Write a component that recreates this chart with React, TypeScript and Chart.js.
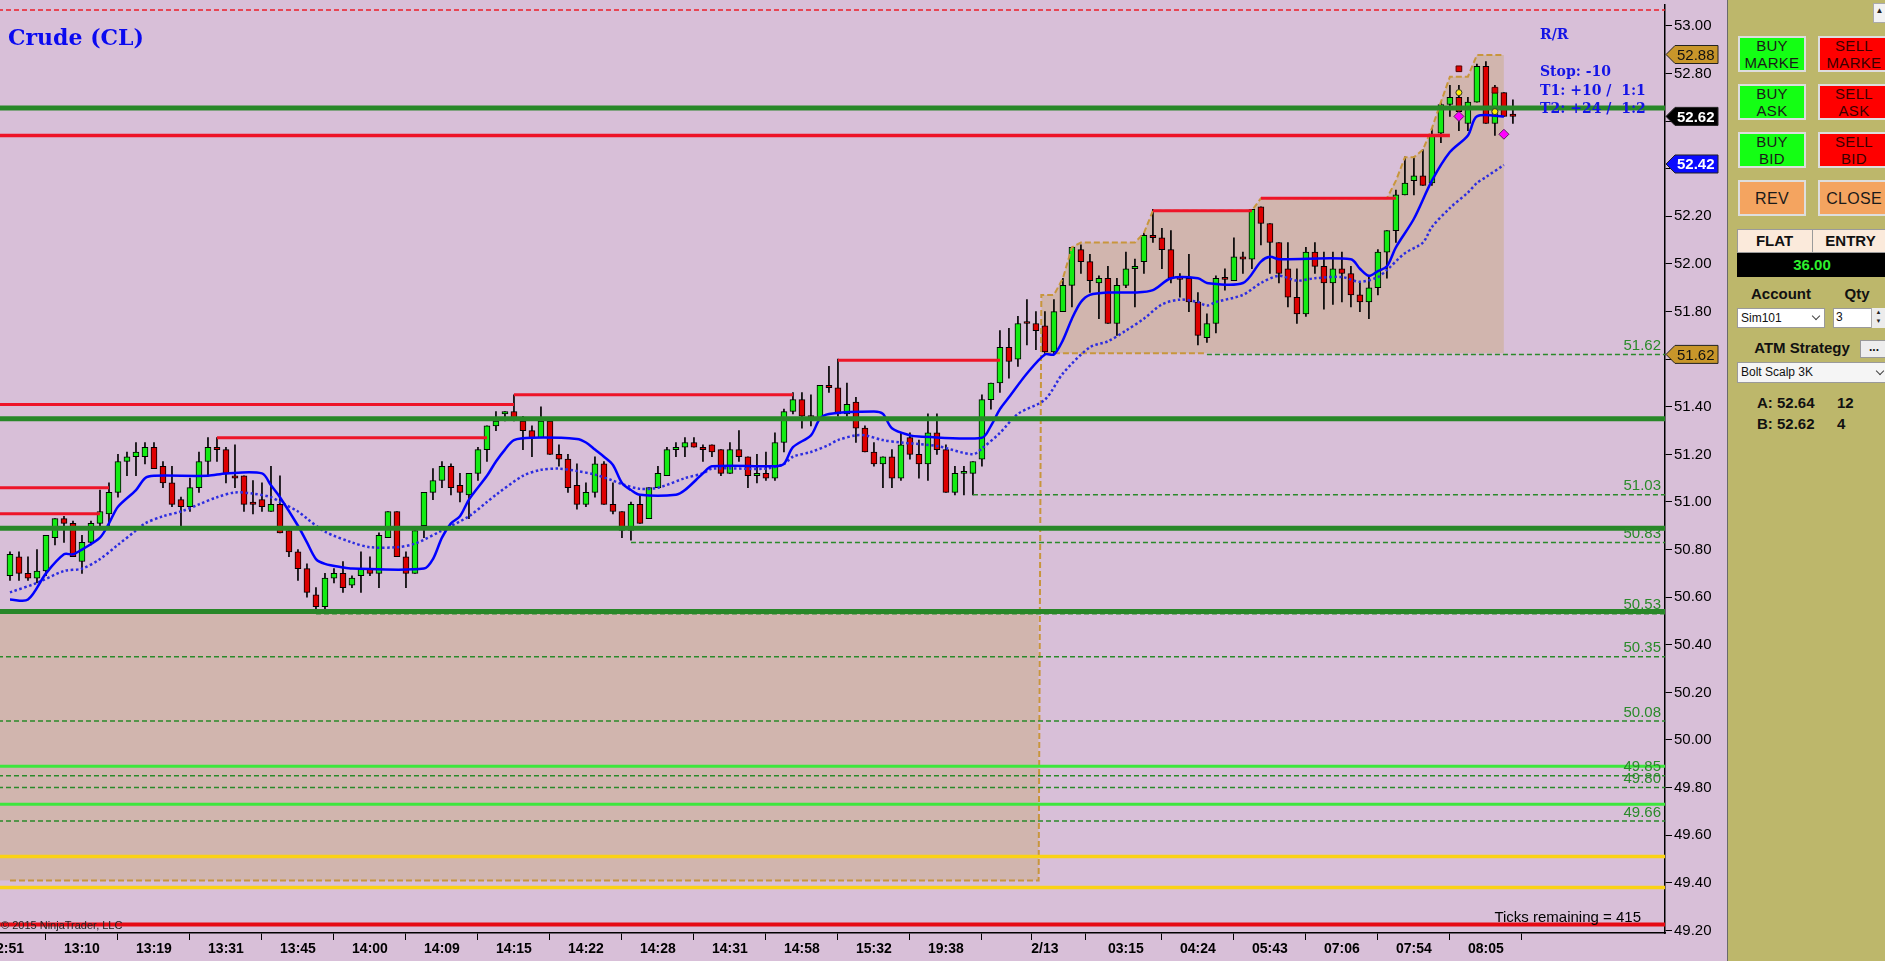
import React, { useEffect, useRef } from 'react';
import { Chart, registerables } from 'chart.js';

Chart.register(...registerables);

// ---------- DATA ----------
const opens = [
  50.69, 50.77, 50.70, 50.68, 50.71, 50.85, 50.93, 50.91, 50.75, 50.83,
  50.91, 50.95, 51.04, 51.17, 51.19, 51.19, 51.23, 51.15, 51.08, 51.01,
  50.98, 51.06, 51.17, 51.23, 51.22, 51.11, 51.11, 51.00, 51.01, 50.96,
  50.99, 50.88, 50.79, 50.72, 50.61, 50.56, 50.68, 50.70, 50.65, 50.69,
  50.72, 50.70, 50.85, 50.96, 50.77, 50.70, 50.90, 51.04, 51.09, 51.15,
  51.07, 51.03, 51.12, 51.22, 51.32, 51.37, 51.38, 51.34, 51.30, 51.27,
  51.34, 51.20, 51.18, 51.07, 50.99, 51.04, 51.16, 50.99, 50.96, 50.88,
  50.99, 50.93, 51.06, 51.11, 51.22, 51.23, 51.25, 51.23, 51.24, 51.22,
  51.12, 51.22, 51.19, 51.11, 51.12, 51.10, 51.25, 51.38, 51.43, 51.36,
  51.35, 51.49, 51.48, 51.37, 51.42, 51.31, 51.21, 51.16, 51.19, 51.10,
  51.27, 51.20, 51.16, 51.29, 51.22, 51.04, 51.12, 51.12, 51.18, 51.43,
  51.50, 51.65, 51.60, 51.755, 51.75, 51.74, 51.63, 51.80, 51.91, 52.06,
  52.01, 51.92, 51.94, 51.75, 51.91, 51.98, 52.01, 52.12, 52.11, 52.06,
  51.94, 51.94, 51.84, 51.69, 51.75, 51.94, 51.93, 52.03, 52.02, 52.24,
  52.17, 52.09, 51.98, 51.86, 51.79, 52.05, 51.99, 51.92, 51.98, 51.96,
  51.87, 51.84, 51.90, 52.05, 52.14, 52.29, 52.35, 52.37, 52.34, 52.55,
  52.67, 52.70, 52.59, 52.68, 52.83, 52.59, 52.72, 52.63,
];
const highs = [
  50.79, 50.79, 50.77, 50.80, 50.86, 50.93, 50.94, 50.92, 50.86, 50.92,
  51.05, 51.08, 51.20, 51.21, 51.25, 51.25, 51.25, 51.17, 51.15, 51.02,
  51.10, 51.21, 51.27, 51.27, 51.23, 51.24, 51.11, 51.09, 51.08, 51.15,
  51.11, 50.88, 50.80, 50.74, 50.64, 50.70, 50.72, 50.75, 50.69, 50.79,
  50.77, 50.87, 50.96, 50.96, 50.79, 50.88, 51.04, 51.14, 51.17, 51.16,
  51.12, 51.12, 51.23, 51.32, 51.38, 51.38, 51.45, 51.36, 51.32, 51.40,
  51.34, 51.24, 51.20, 51.16, 51.08, 51.19, 51.17, 51.08, 50.96, 51.00,
  51.03, 51.06, 51.15, 51.23, 51.25, 51.27, 51.27, 51.24, 51.24, 51.22,
  51.25, 51.30, 51.19, 51.20, 51.21, 51.29, 51.39, 51.46, 51.46, 51.45,
  51.49, 51.57, 51.60, 51.50, 51.44, 51.32, 51.25, 51.19, 51.22, 51.29,
  51.29, 51.26, 51.37, 51.37, 51.24, 51.15, 51.15, 51.17, 51.45, 51.50,
  51.72, 51.73, 51.78, 51.85, 51.80, 51.80, 51.85, 51.94, 52.07, 52.08,
  52.04, 51.95, 51.99, 51.94, 52.05, 52.02, 52.13, 52.23, 52.15, 52.14,
  51.96, 52.04, 51.88, 51.79, 51.95, 51.98, 52.11, 52.05, 52.23, 52.24,
  52.17, 52.09, 52.09, 51.98, 52.07, 52.09, 52.05, 52.05, 52.05, 51.99,
  51.92, 51.95, 52.06, 52.14, 52.31, 52.45, 52.45, 52.48, 52.57, 52.68,
  52.75, 52.75, 52.70, 52.84, 52.85, 52.75, 52.72, 52.69,
];
const lows = [
  50.67, 50.67, 50.67, 50.66, 50.69, 50.82, 50.83, 50.77, 50.70, 50.82,
  50.90, 50.90, 51.02, 51.11, 51.11, 51.16, 51.14, 51.06, 50.98, 50.90,
  50.96, 51.04, 51.11, 51.17, 51.08, 51.06, 50.96, 50.95, 50.96, 50.96,
  50.87, 50.77, 50.67, 50.60, 50.54, 50.55, 50.66, 50.62, 50.64, 50.62,
  50.69, 50.64, 50.85, 50.77, 50.64, 50.70, 50.85, 51.01, 51.06, 51.03,
  51.00, 50.93, 51.09, 51.17, 51.30, 51.34, 51.34, 51.22, 51.19, 51.27,
  51.20, 51.15, 51.04, 50.97, 50.98, 51.02, 50.99, 50.95, 50.85, 50.84,
  50.91, 50.93, 51.06, 51.11, 51.19, 51.19, 51.23, 51.17, 51.19, 51.11,
  51.12, 51.17, 51.06, 51.08, 51.09, 51.09, 51.21, 51.37, 51.31, 51.32,
  51.35, 51.46, 51.36, 51.36, 51.25, 51.21, 51.15, 51.06, 51.06, 51.09,
  51.18, 51.10, 51.09, 51.20, 51.04, 51.03, 51.03, 51.03, 51.15, 51.39,
  51.46, 51.52, 51.57, 51.66, 51.64, 51.62, 51.62, 51.80, 51.82, 51.96,
  51.88, 51.77, 51.75, 51.70, 51.90, 51.82, 51.96, 52.09, 51.98, 51.92,
  51.86, 51.80, 51.66, 51.67, 51.71, 51.89, 51.93, 51.96, 51.98, 52.08,
  51.96, 51.92, 51.82, 51.75, 51.78, 51.96, 51.81, 51.83, 51.84, 51.82,
  51.80, 51.77, 51.87, 51.94, 52.09, 52.29, 52.29, 52.33, 52.33, 52.51,
  52.62, 52.56, 52.56, 52.68, 52.59, 52.54, 52.62, 52.59,
];
const closes = [
  50.78, 50.70, 50.68, 50.71, 50.86, 50.93, 50.91, 50.77, 50.83, 50.91,
  50.96, 51.04, 51.17, 51.19, 51.21, 51.23, 51.14, 51.08, 50.99, 50.98,
  51.06, 51.17, 51.23, 51.22, 51.12, 51.10, 50.99, 50.99, 50.98, 50.99,
  50.87, 50.79, 50.72, 50.62, 50.56, 50.68, 50.70, 50.64, 50.68, 50.72,
  50.70, 50.86, 50.96, 50.77, 50.70, 50.88, 51.04, 51.09, 51.15, 51.06,
  51.04, 51.12, 51.22, 51.32, 51.34, 51.38, 51.35, 51.30, 51.27, 51.34,
  51.20, 51.18, 51.06, 50.99, 51.04, 51.16, 50.99, 50.96, 50.88, 50.99,
  50.91, 51.06, 51.12, 51.22, 51.23, 51.25, 51.23, 51.22, 51.21, 51.12,
  51.22, 51.19, 51.11, 51.12, 51.10, 51.25, 51.38, 51.43, 51.36, 51.355,
  51.49, 51.48, 51.37, 51.41, 51.31, 51.21, 51.16, 51.19, 51.10, 51.24,
  51.20, 51.16, 51.29, 51.22, 51.04, 51.12, 51.125, 51.17, 51.43, 51.50,
  51.65, 51.59, 51.75, 51.75, 51.72, 51.63, 51.80, 51.91, 52.07, 52.01,
  51.93, 51.94, 51.75, 51.91, 51.98, 51.99, 52.12, 52.11, 52.06, 51.94,
  51.935, 51.84, 51.70, 51.75, 51.94, 51.935, 52.03, 52.02, 52.23, 52.17,
  52.09, 51.96, 51.86, 51.79, 52.05, 51.99, 51.92, 51.98, 51.96, 51.87,
  51.84, 51.90, 52.05, 52.14, 52.29, 52.34, 52.37, 52.33, 52.54, 52.67,
  52.70, 52.64, 52.68, 52.83, 52.59, 52.72, 52.62, 52.62,
];

// solid blue average: [bar index, price]
const fastMa: [number, number][] = [
  [0, 50.59], [2, 50.59], [4, 50.70], [6, 50.78], [7, 50.78], [8, 50.80], [10, 50.85], [11, 50.91],
  [12, 50.98], [14, 51.05], [15, 51.10], [16, 51.11], [22, 51.11], [24, 51.12], [28, 51.12], [29, 51.07],
  [30, 51.02], [32, 50.90], [33, 50.83], [34, 50.76], [35, 50.74], [37, 50.725], [38, 50.72], [46, 50.72],
  [47, 50.76], [48, 50.85], [49, 50.91], [50, 50.94], [51, 51.01], [53, 51.11], [54, 51.17], [55, 51.22],
  [56, 51.26], [58, 51.27], [63, 51.265], [64, 51.25], [65, 51.22], [66, 51.19], [67, 51.155], [68, 51.08],
  [69, 51.05], [70, 51.03], [74, 51.03], [75, 51.05], [77, 51.12], [78, 51.15], [85, 51.15], [86, 51.16],
  [87, 51.23], [89, 51.28], [90, 51.35], [91, 51.37], [96, 51.38], [97, 51.37], [98, 51.31], [100, 51.28],
  [101, 51.275], [108, 51.27], [109, 51.32], [110, 51.39], [111, 51.44], [113, 51.54], [115, 51.62], [116, 51.62],
  [117, 51.68], [118, 51.77], [119, 51.84], [120, 51.87], [122, 51.88], [125, 51.88], [127, 51.89], [129, 51.94],
  [132, 51.94], [133, 51.92], [137, 51.92], [139, 52.01], [140, 52.03], [141, 52.02], [149, 52.02], [150, 51.98],
  [151, 51.95], [152, 51.97], [153, 51.99], [154, 52.07], [156, 52.19], [158, 52.35], [160, 52.47], [162, 52.54],
  [163, 52.62], [166, 52.62],
];
// dotted blue average: [bar index, price]
const slowMa: [number, number][] = [
  [0, 50.62], [3, 50.66], [6, 50.71], [8, 50.72], [10, 50.76], [12, 50.82], [14, 50.88], [15, 50.91],
  [17, 50.94], [19, 50.96], [21, 50.99], [23, 51.02], [25, 51.04], [27, 51.035], [29, 51.02], [30, 51.00],
  [32, 50.96], [33, 50.93], [35, 50.875], [38, 50.83], [40, 50.81], [43, 50.81], [45, 50.825], [48, 50.88],
  [51, 50.94], [53, 51.00], [54, 51.03], [57, 51.11], [59, 51.135], [61, 51.14], [63, 51.13], [65, 51.115],
  [67, 51.09], [68, 51.075], [70, 51.055], [72, 51.06], [75, 51.10], [77, 51.12], [78, 51.14], [84, 51.14],
  [86, 51.16], [87, 51.19], [89, 51.21], [91, 51.24], [92, 51.26], [94, 51.28], [95, 51.28], [97, 51.26],
  [99, 51.25], [103, 51.235], [107, 51.20], [108, 51.225], [110, 51.29], [112, 51.37], [115, 51.43], [117, 51.54],
  [120, 51.65], [122, 51.675], [124, 51.72], [126, 51.77], [128, 51.83], [130, 51.85], [132, 51.84], [133, 51.825],
  [134, 51.84], [137, 51.87], [139, 51.92], [141, 51.95], [143, 51.93], [145, 51.94], [148, 51.945], [150, 51.925],
  [152, 51.945], [153, 51.975], [155, 52.045], [157, 52.09], [158, 52.155], [160, 52.235], [162, 52.30], [163, 52.34],
  [164, 52.365], [166, 52.416],
];

// stepped channel (tan dashed)
const channelIdx = [0, 114.3, 114.6, 116, 117, 118, 119, 125, 126, 127, 138, 139, 153, 154, 155, 156, 157, 158, 159, 160, 162, 163, 166];
const channelVal = [49.41, 49.41, 51.87, 51.87, 51.94, 52.07, 52.09, 52.09, 52.13, 52.224, 52.224, 52.276, 52.276, 52.35, 52.448, 52.448, 52.48, 52.57, 52.68, 52.787, 52.787, 52.878, 52.878];
const rangeLow = 50.54;      // top of first shaded zone
const rangeBase = 51.625;    // base of second shaded zone

const thickGreenLevels = [52.655, 51.35, 50.89, 50.54];
const supportLevels = [51.62, 51.03, 50.83, 50.53, 50.35, 50.08, 49.85, 49.80, 49.66];
const supportStart: (number | null)[] = [133, 107, 69, 34, null, null, null, null, null];
const resistLevels = [50.95, 51.06, 51.41, 51.27, 51.45, 51.595, 52.224, 52.276, 52.54];
const resistStart: (number | null)[] = [null, null, null, 23, 56, 92, 127, 139, null];
const resistEnd = [10, 11, 56, 53, 87, 110, 138, 154, 160];
const limeLevels = [49.89, 49.73];
const goldLevels = [49.51, 49.38];
const bottomRedLevel = 49.225;
const topDashedLevel = 53.067;

const tradeSquares: [number, number][] = [[161, 52.82], [165, 52.73]];
const tradeDots: [number, number][] = [[161, 52.72], [165, 52.64]];
const tradeDiamonds: [number, number][] = [[161, 52.62], [166, 52.545]];

const axisFlags = [52.88, 52.62, 52.42, 51.62];

const xTickIdx = [0, 8, 16, 24, 32, 40, 48, 56, 64, 72, 80, 88, 96, 104, 112, 115, 124, 132, 140, 148, 156, 164];
const xTickLabels = ['2:51', '13:10', '13:19', '13:31', '13:45', '14:00', '14:09', '14:15', '14:22', '14:28', '14:31', '14:58', '15:32', '19:38', '', '2/13', '03:15', '04:24', '05:43', '07:06', '07:54', '08:05'];
const priceTicks = [49.2, 49.4, 49.6, 49.8, 50.0, 50.2, 50.4, 50.6, 50.8, 51.0, 51.2, 51.4, 51.6, 51.8, 52.0, 52.2, 52.4, 52.6, 52.8, 53.0];

// ---------- CHART ----------
const FONT = '"Liberation Sans", Arial, Helvetica, sans-serif';
const XMIN = -1.11;
const XMAX = 183.9;

function hline(y: number, x0: number | null, x1: number | null, color: string, width: number, order: number, dash: number[] = []) {
  return {
    type: 'line' as const,
    data: [{ x: x0 == null ? XMIN - 2 : x0, y }, { x: x1 == null ? XMAX + 2 : x1, y }],
    borderColor: color,
    borderWidth: width,
    borderDash: dash,
    pointRadius: 0,
    fill: false,
    order,
  };
}

const overlayPlugin = {
  id: 'overlayPlugin',
  afterDatasetsDraw(chart: any) {
    const { ctx, chartArea } = chart;
    const y = chart.scales.y;
    ctx.save();
    ctx.font = '15px ' + FONT;
    ctx.fillStyle = '#2a8a2a';
    ctx.textAlign = 'right';
    ctx.textBaseline = 'bottom';
    supportLevels.forEach((v) => {
      ctx.fillText(v.toFixed(2), chartArea.right - 4, y.getPixelForValue(v) - 1);
    });
    ctx.restore();
  },
  afterDraw(chart: any) {
    const { ctx, chartArea } = chart;
    const y = chart.scales.y;
    const bg = ['#c8962a', '#000000', '#0a0aff', '#c8962a'];
    const fg = ['#111111', '#ffffff', '#ffffff', '#111111'];
    const bold = [false, true, true, false];
    ctx.save();
    axisFlags.forEach((v, k) => {
      const py = y.getPixelForValue(v);
      const x0 = chartArea.right + 1;
      ctx.beginPath();
      ctx.moveTo(x0, py);
      ctx.lineTo(x0 + 9, py - 9);
      ctx.lineTo(x0 + 52, py - 9);
      ctx.lineTo(x0 + 52, py + 9);
      ctx.lineTo(x0 + 9, py + 9);
      ctx.closePath();
      ctx.fillStyle = bg[k];
      ctx.fill();
      ctx.strokeStyle = '#222';
      ctx.lineWidth = 1;
      ctx.stroke();
      ctx.fillStyle = fg[k];
      ctx.font = (bold[k] ? 'bold ' : '') + '15px ' + FONT;
      ctx.textAlign = 'left';
      ctx.textBaseline = 'middle';
      ctx.fillText(v.toFixed(2), x0 + 11, py + 1);
    });
    ctx.restore();
  },
};

function buildConfig(): any {
  const fillColor = 'rgb(209,181,174)';
  const box2Idx = channelIdx.filter((x) => x >= 114.6);
  const box2Top = channelIdx.map((x, k) => ({ x, y: channelVal[k] })).filter((p) => p.x >= 114.6);
  const box2Bot = box2Idx.map((x) => ({ x, y: rangeBase }));

  const datasets: any[] = [
    // 0,1 first shaded zone
    { type: 'line', data: [{ x: XMIN - 2, y: rangeLow }, { x: 114.3, y: rangeLow }], borderWidth: 0, pointRadius: 0, fill: 1, backgroundColor: fillColor, order: 100 },
    { type: 'line', data: [{ x: XMIN - 2, y: 49.41 }, { x: 114.3, y: 49.41 }], borderWidth: 0, pointRadius: 0, fill: false, order: 100 },
    // 2,3 second shaded zone
    { type: 'line', data: box2Top, borderWidth: 0, pointRadius: 0, fill: 3, backgroundColor: fillColor, order: 100 },
    { type: 'line', data: box2Bot, borderWidth: 0, pointRadius: 0, fill: false, order: 100 },
  ];

  // candles: wicks then bodies
  datasets.push({
    type: 'bar',
    data: highs.map((h, i) => ({ x: i, y: [lows[i], h] })),
    backgroundColor: '#000',
    borderWidth: 0,
    barThickness: 1,
    grouped: false,
    order: 31,
  });
  datasets.push({
    type: 'bar',
    data: opens.map((o, i) => ({ x: i, y: [o, closes[i]] })),
    backgroundColor: opens.map((o, i) => (closes[i] >= o ? 'rgb(20,235,20)' : 'rgb(222,0,0)')),
    borderColor: '#000',
    borderWidth: 1,
    borderSkipped: false,
    barThickness: 6,
    minBarLength: 2,
    grouped: false,
    order: 30,
  });

  // channel dashed line
  datasets.push({
    type: 'line',
    data: channelIdx.map((x, k) => ({ x, y: channelVal[k] })),
    borderColor: 'rgb(200,150,60)',
    borderWidth: 2,
    borderDash: [6, 3],
    pointRadius: 0,
    fill: false,
    order: 25,
  });
  datasets.push(hline(rangeBase, 115, 133, 'rgb(200,150,60)', 2, 25, [6, 3]));

  // moving averages
  datasets.push({
    type: 'line',
    data: slowMa.map(([x, y]) => ({ x, y })),
    borderColor: '#2c2ce0',
    borderWidth: 2.5,
    borderDash: [2.5, 2.5],
    pointRadius: 0,
    tension: 0.3,
    fill: false,
    order: 21,
  });
  datasets.push({
    type: 'line',
    data: fastMa.map(([x, y]) => ({ x, y })),
    borderColor: '#0000ff',
    borderWidth: 2.5,
    pointRadius: 0,
    tension: 0.3,
    fill: false,
    order: 20,
  });

  // horizontal levels
  supportLevels.forEach((v, k) => datasets.push(hline(v, supportStart[k], null, '#2a8a2a', 1.5, 12, [5, 3])));
  resistLevels.forEach((v, k) => datasets.push(hline(v, resistStart[k], resistEnd[k], 'rgb(238,20,40)', k === 8 ? 3.5 : 3, 11)));
  limeLevels.forEach((v) => datasets.push(hline(v, null, null, 'rgb(60,230,60)', 3, 11)));
  goldLevels.forEach((v) => datasets.push(hline(v, null, null, 'rgb(250,210,20)', 3.5, 11)));
  datasets.push(hline(bottomRedLevel, null, null, 'rgb(230,10,20)', 4, 11));
  datasets.push(hline(topDashedLevel, null, null, 'rgb(235,30,40)', 1.5, 11, [5, 3]));
  thickGreenLevels.forEach((v) => datasets.push(hline(v, null, null, 'rgb(40,135,40)', 5, 10)));

  // trade markers
  datasets.push({ type: 'line', showLine: false, data: tradeSquares.map(([x, y]) => ({ x, y })), pointStyle: 'rect', pointRadius: 4, backgroundColor: 'rgb(225,0,0)', borderColor: '#500', borderWidth: 1, order: 1 });
  datasets.push({ type: 'line', showLine: false, data: tradeDots.map(([x, y]) => ({ x, y })), pointStyle: 'circle', pointRadius: 3, backgroundColor: 'rgb(255,240,0)', borderColor: '#333', borderWidth: 1, order: 1 });
  datasets.push({ type: 'line', showLine: false, data: tradeDiamonds.map(([x, y]) => ({ x, y })), pointStyle: 'rectRot', pointRadius: 5, backgroundColor: 'rgb(255,0,255)', borderColor: '#602060', borderWidth: 1, order: 1 });

  return {
    type: 'bar',
    data: { datasets },
    plugins: [overlayPlugin],
    options: {
      responsive: false,
      maintainAspectRatio: false,
      animation: false,
      events: [],
      layout: { autoPadding: false, padding: { top: 5, left: 0, right: 0, bottom: 0 } },
      plugins: { legend: { display: false }, tooltip: { enabled: false }, title: { display: false } },
      scales: {
        x: {
          type: 'linear',
          min: XMIN,
          max: XMAX,
          offset: false,
          afterBuildTicks: (s: any) => { s.ticks = xTickIdx.map((v) => ({ value: v })); },
          afterFit: (s: any) => { s.height = 28; s.paddingLeft = 0; s.paddingRight = 0; },
          ticks: {
            autoSkip: false,
            maxRotation: 0,
            minRotation: 0,
            color: '#000',
            padding: 1,
            font: { size: 14, weight: 'bold', family: FONT },
            callback: (_v: any, i: number) => xTickLabels[i] ?? '',
          },
          grid: { drawOnChartArea: false, drawTicks: true, tickLength: 7, color: '#000' },
          border: { display: true, color: '#000', width: 1.5 },
        },
        y: {
          type: 'linear',
          position: 'right',
          min: 49.189,
          max: 53.088,
          afterBuildTicks: (s: any) => { s.ticks = priceTicks.map((v) => ({ value: v })); },
          afterFit: (s: any) => { s.width = 62; s.paddingTop = 0; s.paddingBottom = 0; },
          ticks: {
            color: '#000',
            padding: 2,
            font: { size: 15, family: FONT },
            callback: (v: any) => Number(v).toFixed(2),
          },
          grid: { drawOnChartArea: false, drawTicks: true, tickLength: 7, color: '#000' },
          border: { display: true, color: '#000', width: 1.5 },
        },
      },
    },
  };
}

// ---------- UI PIECES ----------
const abs = (left: number, top: number, extra: React.CSSProperties = {}): React.CSSProperties => ({ position: 'absolute', left, top, ...extra });

function Btn(props: { left: number; top: number; w: number; h: number; bg: string; color: string; lines: string[]; size?: number }) {
  const { left, top, w, h, bg, color, lines, size = 15 } = props;
  return (
    <div style={abs(left, top, {
      width: w, height: h, background: bg, border: '2px solid #dedede', boxSizing: 'border-box', color,
      display: 'flex', flexDirection: 'column', alignItems: 'center', justifyContent: 'center',
      fontSize: size, lineHeight: '17px', fontFamily: FONT, letterSpacing: 0.3,
    })}>
      {lines.map((l) => <div key={l}>{l}</div>)}
    </div>
  );
}

function Chevron(props: { left: number; top: number }) {
  return (
    <div style={abs(props.left, props.top, {
      width: 5, height: 5, borderRight: '1.5px solid #444', borderBottom: '1.5px solid #444', transform: 'rotate(45deg)',
    })} />
  );
}

export default function App() {
  const ref = useRef<HTMLCanvasElement>(null);
  useEffect(() => {
    if (!ref.current) return;
    const chart = new Chart(ref.current, buildConfig());
    return () => chart.destroy();
  }, []);

  const serifBlue: React.CSSProperties = { fontFamily: '"DejaVu Serif", "Liberation Serif", serif', fontWeight: 'bold', color: '#1414e6', whiteSpace: 'pre' };
  const panelText: React.CSSProperties = { fontFamily: FONT, color: '#111', whiteSpace: 'pre' };

  return (
    <div style={{ position: 'absolute', left: 0, top: 0, width: 1885, height: 961, background: '#d8bfd8', overflow: 'hidden' }}>
      <canvas ref={ref} width={1727} height={961} style={{ position: 'absolute', left: 0, top: 0, width: 1727, height: 961 }} />

      {/* chart texts */}
      <div style={abs(8, 24, { ...serifBlue, fontSize: 22, lineHeight: '26px', color: '#0a0af0' })}>Crude (CL)</div>
      <div style={abs(1540, 26, { ...serifBlue, fontSize: 14, lineHeight: '16px' })}>R/R</div>
      <div style={abs(1540, 63, { ...serifBlue, fontSize: 14, lineHeight: '16px' })}>Stop: -10</div>
      <div style={abs(1540, 82, { ...serifBlue, fontSize: 14, lineHeight: '16px' })}>T1: +10 /  1:1</div>
      <div style={abs(1540, 100, { ...serifBlue, fontSize: 14, lineHeight: '16px' })}>T2: +24 /  1:2</div>
      <div style={{ position: 'absolute', right: 1885 - 1641, top: 908, fontFamily: FONT, fontSize: 15, color: '#000', whiteSpace: 'pre' }}>Ticks remaining = 415</div>
      <div style={abs(1, 919, { fontFamily: FONT, fontSize: 11, color: '#222', whiteSpace: 'pre' })}>© 2015 NinjaTrader, LLC</div>

      {/* right trading panel */}
      <div style={abs(1727, 0, { width: 158, height: 961, background: '#bdb76b', borderLeft: '1px solid #6a6a6a', boxSizing: 'border-box' })} />
      <div style={abs(1873, 3, { width: 13, height: 20, background: '#f2f2f2', border: '1px solid #aaa', boxSizing: 'border-box', fontSize: 8, textAlign: 'center', lineHeight: '14px', color: '#222' })}>▲</div>

      <Btn left={1738} top={36} w={68} h={36} bg="rgb(20,255,20)" color="#1a1a1a" lines={['BUY', 'MARKE']} />
      <Btn left={1818} top={36} w={72} h={36} bg="rgb(255,0,0)" color="#3a0000" lines={['SELL', 'MARKE']} />
      <Btn left={1738} top={84} w={68} h={36} bg="rgb(20,255,20)" color="#1a1a1a" lines={['BUY', 'ASK']} />
      <Btn left={1818} top={84} w={72} h={36} bg="rgb(255,0,0)" color="#3a0000" lines={['SELL', 'ASK']} />
      <Btn left={1738} top={132} w={68} h={36} bg="rgb(20,255,20)" color="#1a1a1a" lines={['BUY', 'BID']} />
      <Btn left={1818} top={132} w={72} h={36} bg="rgb(255,0,0)" color="#3a0000" lines={['SELL', 'BID']} />
      <Btn left={1738} top={180} w={68} h={36} bg="rgb(244,164,96)" color="#1a1a1a" lines={['REV']} size={16} />
      <Btn left={1818} top={180} w={72} h={36} bg="rgb(244,164,96)" color="#1a1a1a" lines={['CLOSE']} size={16} />

      <div style={abs(1737, 229, { width: 150, height: 24, background: '#fbeadb', border: '1px solid #9a9a9a', boxSizing: 'border-box' })} />
      <div style={abs(1812, 229, { width: 1, height: 24, background: '#9a9a9a' })} />
      <div style={abs(1737, 232, { ...panelText, width: 75, textAlign: 'center', fontSize: 15, fontWeight: 'bold', lineHeight: '18px' })}>FLAT</div>
      <div style={abs(1813, 232, { ...panelText, width: 75, textAlign: 'center', fontSize: 15, fontWeight: 'bold', lineHeight: '18px' })}>ENTRY</div>
      <div style={abs(1737, 253, { width: 150, height: 24, background: '#000', color: '#2ef02e', fontFamily: FONT, fontSize: 15, fontWeight: 'bold', textAlign: 'center', lineHeight: '24px' })}>36.00</div>

      <div style={abs(1737, 285, { ...panelText, width: 88, textAlign: 'center', fontSize: 15, fontWeight: 'bold', lineHeight: '18px' })}>Account</div>
      <div style={abs(1833, 285, { ...panelText, width: 48, textAlign: 'center', fontSize: 15, fontWeight: 'bold', lineHeight: '18px' })}>Qty</div>
      <div style={abs(1737, 308, { width: 88, height: 20, background: '#fff', border: '1px solid #9a9a9a', boxSizing: 'border-box', ...panelText, fontSize: 12, lineHeight: '18px', paddingLeft: 3 })}>Sim101</div>
      <Chevron left={1813} top={313} />
      <div style={abs(1833, 308, { width: 54, height: 20, background: '#fff', border: '1px solid #9a9a9a', boxSizing: 'border-box', ...panelText, fontSize: 12, lineHeight: '17px', paddingLeft: 2 })}>3</div>
      <div style={abs(1871, 308, { width: 14, height: 20, background: '#ececec', borderLeft: '1px solid #aaa', boxSizing: 'border-box', fontSize: 6, color: '#222', textAlign: 'center', lineHeight: '9px' })}>▲<br />▼</div>

      <div style={abs(1737, 339, { ...panelText, width: 130, textAlign: 'center', fontSize: 15, fontWeight: 'bold', lineHeight: '18px' })}>ATM Strategy</div>
      <div style={abs(1860, 340, { width: 28, height: 18, background: '#eeeeee', border: '1px solid #999', boxSizing: 'border-box', ...panelText, fontSize: 12, fontWeight: 'bold', lineHeight: '12px', textAlign: 'center' })}>...</div>
      <div style={abs(1737, 362, { width: 150, height: 21, background: '#f5f5f5', border: '1px solid #9a9a9a', boxSizing: 'border-box', ...panelText, fontSize: 12, lineHeight: '19px', paddingLeft: 3 })}>Bolt Scalp 3K</div>
      <Chevron left={1877} top={368} />

      <div style={abs(1757, 394, { ...panelText, fontSize: 15, fontWeight: 'bold', lineHeight: '18px' })}>A: 52.64</div>
      <div style={abs(1837, 394, { ...panelText, fontSize: 15, fontWeight: 'bold', lineHeight: '18px' })}>12</div>
      <div style={abs(1757, 415, { ...panelText, fontSize: 15, fontWeight: 'bold', lineHeight: '18px' })}>B: 52.62</div>
      <div style={abs(1837, 415, { ...panelText, fontSize: 15, fontWeight: 'bold', lineHeight: '18px' })}>4</div>
    </div>
  );
}
